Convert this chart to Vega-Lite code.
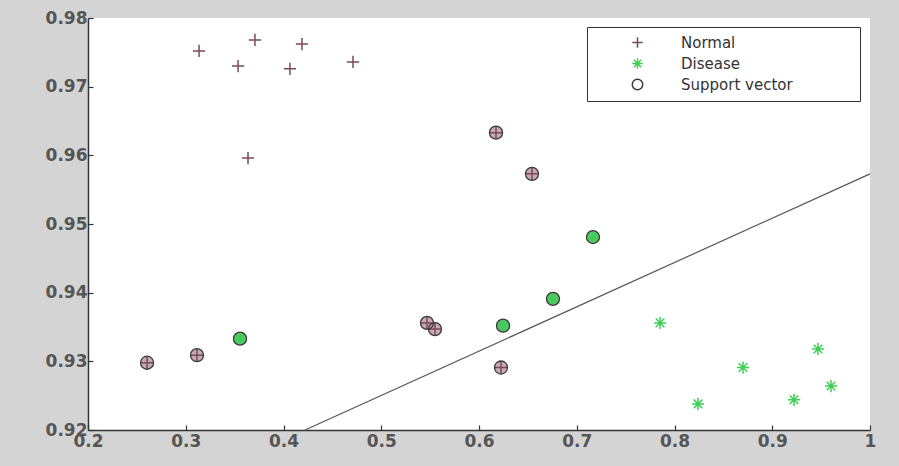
{
  "$schema": "https://vega.github.io/schema/vega-lite/v6.json",
  "width": 782,
  "height": 412,
  "autosize": {"type": "none"},
  "padding": {"left": 88, "top": 18, "right": 29, "bottom": 36},
  "background": "#d4d4d4",
  "datasets": {
    "pts": [
      {"x": 0.3136, "y": 0.9752, "cls": "Normal", "sv": false},
      {"x": 0.3708, "y": 0.9768, "cls": "Normal", "sv": false},
      {"x": 0.4189, "y": 0.9762, "cls": "Normal", "sv": false},
      {"x": 0.3535, "y": 0.9730, "cls": "Normal", "sv": false},
      {"x": 0.4066, "y": 0.9726, "cls": "Normal", "sv": false},
      {"x": 0.4711, "y": 0.9736, "cls": "Normal", "sv": false},
      {"x": 0.3637, "y": 0.9596, "cls": "Normal", "sv": false},
      {"x": 0.6174, "y": 0.9633, "cls": "Normal", "sv": true},
      {"x": 0.6542, "y": 0.9573, "cls": "Normal", "sv": true},
      {"x": 0.2604, "y": 0.9298, "cls": "Normal", "sv": true},
      {"x": 0.3115, "y": 0.9309, "cls": "Normal", "sv": true},
      {"x": 0.5468, "y": 0.9356, "cls": "Normal", "sv": true},
      {"x": 0.5550, "y": 0.9347, "cls": "Normal", "sv": true},
      {"x": 0.6225, "y": 0.9291, "cls": "Normal", "sv": true},
      {"x": 0.3555, "y": 0.9333, "cls": "Disease", "sv": true},
      {"x": 0.7166, "y": 0.9481, "cls": "Disease", "sv": true},
      {"x": 0.6757, "y": 0.9391, "cls": "Disease", "sv": true},
      {"x": 0.6246, "y": 0.9352, "cls": "Disease", "sv": true},
      {"x": 0.7852, "y": 0.9356, "cls": "Disease", "sv": false},
      {"x": 0.8701, "y": 0.9291, "cls": "Disease", "sv": false},
      {"x": 0.8240, "y": 0.9238, "cls": "Disease", "sv": false},
      {"x": 0.9468, "y": 0.9318, "cls": "Disease", "sv": false},
      {"x": 0.9223, "y": 0.9244, "cls": "Disease", "sv": false},
      {"x": 0.9601, "y": 0.9264, "cls": "Disease", "sv": false}
    ],
    "boundary": [
      {"x": 0.422, "y": 0.92},
      {"x": 1.0, "y": 0.9573}
    ]
  },
  "layer": [
    {
      "data": {"name": "boundary"},
      "mark": {"type": "line", "color": "#555555", "strokeWidth": 1.2},
      "encoding": {
        "x": {"field": "x", "type": "quantitative", "scale": {"domain": [0.2, 1], "nice": false, "zero": false},
          "axis": {"values": [0.2, 0.3, 0.4, 0.5, 0.6, 0.7, 0.8, 0.9, 1], "format": "~g", "title": null, "labelPadding": 8}},
        "y": {"field": "y", "type": "quantitative", "scale": {"domain": [0.92, 0.98], "nice": false, "zero": false},
          "axis": {"values": [0.92, 0.93, 0.94, 0.95, 0.96, 0.97, 0.98], "format": "~g", "title": null, "labelPadding": 6}}
      }
    },
    {
      "data": {"name": "pts"},
      "transform": [{"filter": "datum.sv"}],
      "mark": {"type": "point", "shape": "circle", "filled": true, "size": 170, "opacity": 1, "strokeWidth": 0},
      "encoding": {
        "x": {"field": "x", "type": "quantitative"},
        "y": {"field": "y", "type": "quantitative"},
        "fill": {"field": "cls", "type": "nominal", "legend": null,
          "scale": {"domain": ["Normal", "Disease"], "range": ["#c7aab6", "#5cc272"]}}
      }
    },
    {
      "data": {"name": "pts"},
      "mark": {"type": "point", "filled": false, "size": 150, "opacity": 1, "strokeWidth": 1.5},
      "encoding": {
        "x": {"field": "x", "type": "quantitative"},
        "y": {"field": "y", "type": "quantitative"},
        "stroke": {"field": "cls", "type": "nominal", "title": " ",
          "scale": {"domain": ["Normal", "Disease", "Support vector"], "range": ["#7a4a5c", "#3fcf55", "#3a3a3a"]}},
        "shape": {"field": "cls", "type": "nominal", "title": " ",
          "scale": {"domain": ["Normal", "Disease", "Support vector"], "range": ["M-1,0L1,0M0,-1L0,1", "M-1,0L1,0M0,-1L0,1M-0.7,-0.7L0.7,0.7M-0.7,0.7L0.7,-0.7", "circle"]}}
      }
    },
    {
      "data": {"name": "pts"},
      "transform": [{"filter": "datum.sv"}],
      "mark": {"type": "point", "filled": false, "size": 170, "opacity": 1, "strokeWidth": 1.3},
      "encoding": {
        "x": {"field": "x", "type": "quantitative"},
        "y": {"field": "y", "type": "quantitative"},
        "stroke": {"datum": "Support vector"},
        "shape": {"datum": "Support vector"}
      }
    }
  ],
  "config": {
    "view": {"stroke": null, "fill": "#ffffff"},
    "axis": {
      "grid": false,
      "domainColor": "#333333",
      "domainWidth": 1.5,
      "tickColor": "#333333",
      "tickSize": -5,
      "tickWidth": 1.2,
      "labelFont": "DejaVu Sans",
      "labelFontSize": 17,
      "labelFontWeight": "bold",
      "labelColor": "#555555",
      "labelOverlap": false,
      "labelBound": false,
      "labelFlush": false
    },
    "legend": {
      "orient": "none",
      "legendX": 499,
      "legendY": 9,
      "direction": "vertical",
      "fillColor": "#ffffff",
      "strokeColor": "#333333",
      "padding": 8,
      "cornerRadius": 0,
      "symbolOffset": 35,
      "symbolSize": 110,
      "symbolStrokeWidth": 1.5,
      "labelOffset": 36,
      "rowPadding": 4,
      "labelLimit": 400,
      "labelFont": "DejaVu Sans",
      "labelFontSize": 15,
      "labelColor": "#333333",
      "titleOrient": "right",
      "titlePadding": 59,
      "titleFontSize": 4
    }
  }
}
